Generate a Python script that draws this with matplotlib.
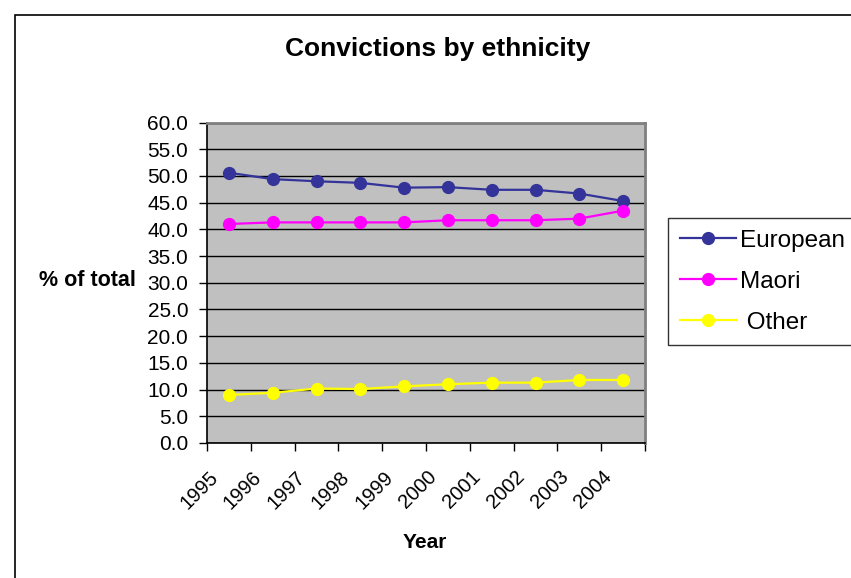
import matplotlib
matplotlib.use("Agg")
import matplotlib.pyplot as plt
import matplotlib.transforms as mtransforms
from matplotlib.patches import Rectangle
import numpy as np

plt.rcParams['font.family'] = ['Liberation Sans', 'DejaVu Sans']

years = ["1995", "1996", "1997", "1998", "1999", "2000", "2001", "2002", "2003", "2004"]
european = [50.6, 49.4, 49.0, 48.7, 47.8, 47.9, 47.4, 47.4, 46.7, 45.3]
maori = [41.0, 41.3, 41.3, 41.3, 41.3, 41.7, 41.7, 41.7, 42.0, 43.5]
other = [9.0, 9.4, 10.2, 10.1, 10.6, 11.0, 11.3, 11.3, 11.8, 11.8]
series_names = ["European", "Maori", " Other"]
series_colors = ["#333399", "#FF00FF", "#FFFF00"]
yticks = np.arange(0, 60.1, 5)

W, H = 851, 578
fig = plt.figure(figsize=(W / 100, H / 100), dpi=100)
fig.patch.set_facecolor("white")

# outer chart frame (cut off at right/bottom)
fig.patches.append(Rectangle((15 / W, -0.1), 1.2, (H - 15) / H + 0.1,
                             transform=fig.transFigure, fill=False,
                             edgecolor="#000000", linewidth=1.2))

ax = fig.add_axes([207 / W, 1 - 443 / H, (645 - 207) / W, (443 - 122.5) / H])
ax.set_facecolor("#C0C0C0")

centers = np.arange(len(years)) + 0.5
for vals, name, col in zip([european, maori, other], series_names, series_colors):
    ax.plot(centers, vals, color=col, linewidth=1.6, marker="o",
            markersize=8.5, markerfacecolor=col, markeredgecolor=col, label=name)

ax.set_xlim(0, len(years))
ax.set_ylim(0, 60)
ax.set_yticks(yticks)
ax.set_yticklabels([f"{v:.1f}" for v in yticks], fontsize=15)
ax.yaxis.grid(True, color="#000000", linewidth=1.0)
ax.set_axisbelow(True)

ax.set_xticks(np.arange(0, len(years) + 1))
ax.set_xticklabels([])
ax.set_xticks(centers, minor=True)
ax.set_xticklabels(years, minor=True, fontsize=14.5, rotation=45,
                   ha="right", va="center", rotation_mode="anchor")
ax.tick_params(axis="x", which="minor", length=0, pad=0)
ax.tick_params(axis="x", which="major", length=6, width=1, direction="out", color="black")
ax.tick_params(axis="y", length=6, width=1, direction="out", color="black", pad=7.5)

offset = mtransforms.ScaledTranslation(-14 / 100, -31 / 100, fig.dpi_scale_trans)
for lbl in ax.get_xticklabels(minor=True):
    lbl.set_transform(lbl.get_transform() + offset)

for s in ["left", "bottom"]:
    ax.spines[s].set_color("black")
    ax.spines[s].set_linewidth(1.2)
for s in ["top", "right"]:
    ax.spines[s].set_color("#808080")
    ax.spines[s].set_linewidth(2.0)

fig.text(438 / W, 1 - 49 / H, "Convictions by ethnicity", fontsize=19,
         fontweight="bold", ha="center", va="center")
fig.text(87 / W, 1 - 281 / H, "% of total", fontsize=15.5, fontweight="bold",
         ha="center", va="center")
fig.text(425 / W, 1 - 542 / H, "Year", fontsize=15, fontweight="bold",
         ha="center", va="center")

leg = fig.legend(loc="upper left", bbox_to_anchor=(668 / W, 1 - 218 / H),
                 fontsize=17.5, frameon=True, fancybox=False, borderaxespad=0,
                 handlelength=2.3, handletextpad=0.2, labelspacing=0.78,
                 borderpad=0.48)
leg.get_frame().set_edgecolor("black")
leg.get_frame().set_linewidth(1.0)

fig.savefig("out.png", dpi=100)
